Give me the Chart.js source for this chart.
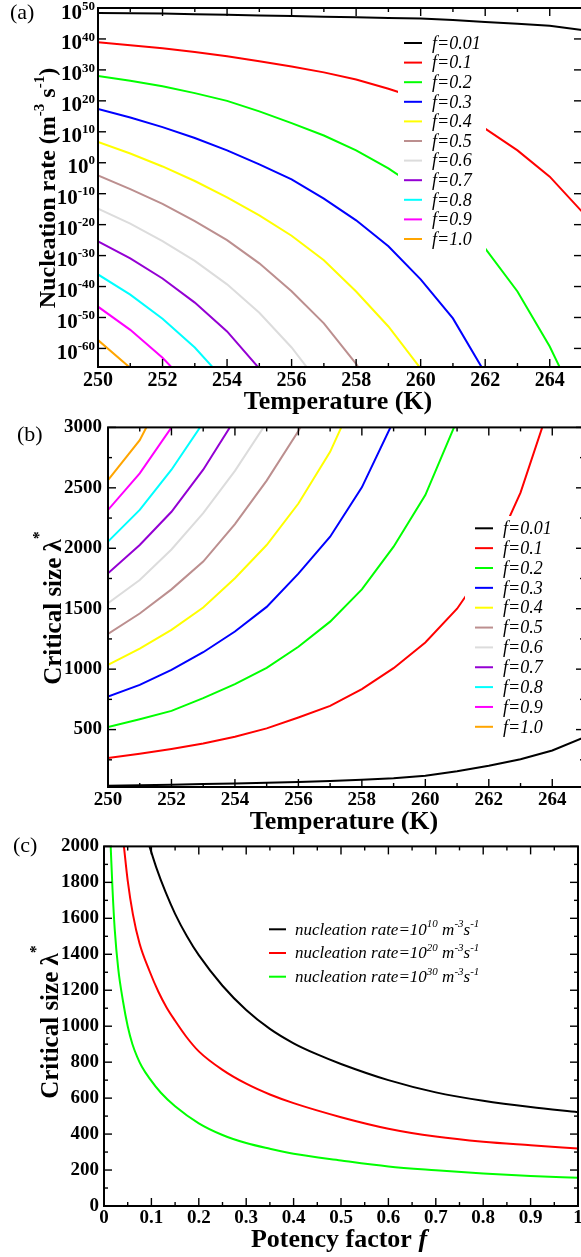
<!DOCTYPE html>
<html>
<head>
<meta charset="utf-8">
<script src="https://cdn.jsdelivr.net/npm/chart.js@4.4.0/dist/chart.umd.min.js"></script>
<style>
  html, body { margin: 0; padding: 0; overflow: hidden; background: #fff; }
  body { width: 581px; height: 1257px; position: relative; }
  .panel { position: absolute; left: 0; width: 590px; }
</style>
</head>
<body>
<div class="panel" style="top:0;height:415px"><canvas id="chartA"></canvas></div>
<div class="panel" style="top:410px;height:425px"><canvas id="chartB"></canvas></div>
<div class="panel" style="top:830px;height:423px"><canvas id="chartC"></canvas></div>
<script>
const SERIF = '"Liberation Serif", "DejaVu Serif", serif';

// temperatures (K) shared by panels (a) and (b)
const temps = [250, 251, 252, 253, 254, 255, 256, 257, 258, 259, 260, 261, 262, 263, 264, 265];
const fLabels = ['f=0.01', 'f=0.1', 'f=0.2', 'f=0.3', 'f=0.4', 'f=0.5', 'f=0.6', 'f=0.7', 'f=0.8', 'f=0.9', 'f=1.0'];
const fColors = ['#000000', '#ff0000', '#00ff00', '#0000ff', '#ffff00', '#bc8f8f', '#dcdcdc', '#9400d3', '#00ffff', '#ff00ff', '#ffa500'];

// (a) log10 of nucleation rate (m^-3 s^-1)
const rate001 = [48.4, 48.3, 48.2, 48.0, 47.8, 47.6, 47.4, 47.2, 47.0, 46.8, 46.6, 46.1, 45.5, 44.9, 44.3, 42.9];
const rate01 = [38.9, 38.0, 37.0, 35.8, 34.4, 32.8, 31.1, 29.2, 26.9, 23.9, 20.5, 16.3, 11.0, 4.0, -4.5, -15.8];
const rate02 = [28.0, 26.5, 24.7, 22.5, 20.0, 16.6, 12.8, 8.8, 4.0, -1.8, -8.8, -17.3, -27.7, -41.6, -59.4, -81];
const rate03 = [17.4, 14.6, 11.5, 8.0, 4.0, -0.5, -5.4, -11.6, -18.6, -27.0, -37.7, -50.3, -68];
const rate04 = [6.7, 3.0, -1.2, -5.9, -11.2, -17.0, -23.6, -31.5, -41.6, -52.9, -66.5];
const rate05 = [-4.1, -8.5, -13.3, -18.9, -25.0, -32.5, -41.5, -51.9, -65.0, -82];
const rate06 = [-14.8, -19.7, -25.3, -31.7, -39.3, -48.5, -59.7, -73.2];
const rate07 = [-25.4, -30.9, -37.4, -45.2, -54.5, -66.5];
const rate08 = [-36.1, -42.6, -50.4, -59.7, -71.2];
const rate09 = [-46.5, -54.0, -63.0, -74.0];
const rate10 = [-57.3, -66.3, -77];
const rateExpTicks = [50, 40, 30, 20, 10, 0, -10, -20, -30, -40, -50, -60];

// (b) critical size lambda*
const size001 = [36, 40, 44, 49, 54, 60, 67, 75, 85, 98, 118, 155, 200, 255, 327, 435];
const size01 = [264, 300, 340, 385, 440, 510, 600, 696, 835, 1008, 1220, 1500, 1880, 2460, 3250];
const size02 = [521, 585, 655, 760, 876, 1010, 1185, 1393, 1660, 2013, 2440, 3060];
const size03 = [774, 870, 994, 1140, 1311, 1515, 1790, 2096, 2504, 3055];
const size04 = [1036, 1170, 1325, 1510, 1752, 2027, 2370, 2798, 3375];
const size05 = [1292, 1460, 1660, 1890, 2200, 2560, 2970, 3500];
const size06 = [1545, 1738, 1990, 2290, 2640, 3040];
const size07 = [1793, 2027, 2302, 2650, 3067];
const size08 = [2055, 2317, 2650, 3039];
const size09 = [2317, 2620, 3000, 3400];
const size10 = [2564, 2895, 3400];
const sizeTicks = [500, 1000, 1500, 2000, 2500, 3000];

// (c) critical size vs potency factor f, for three nucleation rates
const fRate10 = [0.096, 0.11, 0.13, 0.15, 0.175, 0.2, 0.25, 0.3, 0.35, 0.4, 0.45, 0.5, 0.6, 0.7, 0.8, 0.9, 1.0];
const sizeRate10 = [2000, 1885, 1745, 1625, 1500, 1395, 1225, 1090, 985, 905, 843, 790, 700, 632, 585, 550, 522];
const fRate20 = [0.042, 0.05, 0.061, 0.075, 0.096, 0.115, 0.132, 0.15, 0.174, 0.2, 0.25, 0.3, 0.35, 0.4, 0.5, 0.6, 0.7, 0.8, 0.9, 1.0];
const sizeRate20 = [2000, 1810, 1622, 1460, 1307, 1190, 1104, 1030, 940, 860, 757, 680, 620, 572, 494, 430, 386, 357, 338, 320];
const fRate30 = [0.0141, 0.018, 0.0226, 0.03, 0.04, 0.05, 0.06, 0.07, 0.08, 0.096, 0.12, 0.15, 0.2, 0.25, 0.3, 0.35, 0.4, 0.5, 0.6, 0.7, 0.8, 0.9, 1.0];
const sizeRate30 = [2000, 1760, 1540, 1320, 1140, 1000, 900, 830, 775, 710, 630, 555, 460, 395, 350, 318, 290, 253, 220, 199, 181, 167, 157];

const rateSeries = [rate001, rate01, rate02, rate03, rate04, rate05, rate06, rate07, rate08, rate09, rate10];
const sizeSeries = [size001, size01, size02, size03, size04, size05, size06, size07, size08, size09, size10];

// draw text made of pieces, some raised as superscripts
function drawRich(ctx, parts, x, y, size, style, align) {
  const fontOf = p => `${p.style || style} ${p.sup ? Math.round(size * 0.62) : size}px ${SERIF}`;
  let w = 0;
  parts.forEach(p => { ctx.font = fontOf(p); w += ctx.measureText(p.t).width; });
  let cx = align === 'center' ? x - w / 2 : align === 'right' ? x - w : x;
  ctx.textAlign = 'left';
  ctx.textBaseline = 'alphabetic';
  parts.forEach(p => {
    ctx.font = fontOf(p);
    ctx.fillText(p.t, cx, p.sup ? y - size * (p.shift || 0.44) : y);
    cx += ctx.measureText(p.t).width;
  });
}

const specs = {
  chartA: {
    top: 0, panel: '(a)', panelPos: [10, 13], xMinor: 1, yMinor: 0, logLabels: true,
    xTitle: { parts: [{ t: 'Temperature (K)' }], y: 409 },
    yTitle: { parts: [{ t: 'Nucleation rate (m' }, { t: '-3', sup: true }, { t: ' s' }, { t: '-1', sup: true }, { t: ')' }], x: 55, y: 188, size: 24 },
    legend: { box: [398, 30, 88, 224], x1: 404, x2: 422, tx: 432, y: 43, dy: 19.6, size: 18 }
  },
  chartB: {
    top: 410, panel: '(b)', panelPos: [17, 435], xMinor: 1, yMinor: 250,
    xTitle: { parts: [{ t: 'Temperature (K)' }], y: 829 },
    yTitle: { parts: [{ t: 'Critical size λ' }, { t: '*', sup: true, shift: 0.7 }], x: 61, y: 608, size: 25 },
    legend: { box: [465, 516, 100, 224], x1: 475, x2: 493, tx: 503, y: 528.3, dy: 19.85, size: 18 }
  },
  chartC: {
    top: 830, panel: '(c)', panelPos: [13, 846], xMinor: 0.05, yMinor: 100,
    xTitle: { parts: [{ t: 'Potency factor ' }, { t: 'f', style: 'italic bold' }], y: 1247 },
    yTitle: { parts: [{ t: 'Critical size λ' }, { t: '*', sup: true, shift: 0.7 }], x: 58, y: 1022, size: 25 },
    legend: {
      x1: 269, x2: 286, tx: 295, y: 929.3, dy: 23.7, size: 17,
      rich: [
        [{ t: 'nucleation rate=10' }, { t: '10', sup: true }, { t: ' m' }, { t: '-3', sup: true }, { t: 's' }, { t: '-1', sup: true }],
        [{ t: 'nucleation rate=10' }, { t: '20', sup: true }, { t: ' m' }, { t: '-3', sup: true }, { t: 's' }, { t: '-1', sup: true }],
        [{ t: 'nucleation rate=10' }, { t: '30', sup: true }, { t: ' m' }, { t: '-3', sup: true }, { t: 's' }, { t: '-1', sup: true }]
      ]
    }
  }
};

const framePlugin = {
  id: 'frame',
  afterDatasetsDraw(chart) {
    const s = specs[chart.canvas.id], lg = s.legend, ctx = chart.ctx;
    ctx.save();
    ctx.translate(0, -s.top);
    if (lg.box) {
      ctx.fillStyle = '#fff';
      ctx.fillRect(lg.box[0], lg.box[1], lg.box[2], lg.box[3]);
    }
    chart.data.datasets.forEach((ds, i) => {
      const y = lg.y + i * lg.dy;
      ctx.strokeStyle = ds.borderColor;
      ctx.lineWidth = 2;
      ctx.beginPath(); ctx.moveTo(lg.x1, y); ctx.lineTo(lg.x2, y); ctx.stroke();
      ctx.fillStyle = '#000';
      const parts = lg.rich ? lg.rich[i] : [{ t: ds.label }];
      drawRich(ctx, parts, lg.tx, y + lg.size * 0.32, lg.size, 'italic', 'left');
    });
    ctx.restore();
  },
  afterDraw(chart) {
    const s = specs[chart.canvas.id], ctx = chart.ctx, a = chart.chartArea;
    const xs = chart.scales.x, ys = chart.scales.y;
    const seg = (x1, y1, x2, y2) => { ctx.beginPath(); ctx.moveTo(x1, y1); ctx.lineTo(x2, y2); ctx.stroke(); };
    const isMajor = (scale, v) => scale.ticks.some(t => Math.abs(t.value - v) < 1e-6);
    ctx.save();
    ctx.strokeStyle = '#000';
    ctx.lineWidth = 1.4;
    // inward ticks on all four sides
    xs.ticks.forEach(t => {
      const p = xs.getPixelForValue(t.value);
      seg(p, a.bottom, p, a.bottom - 8); seg(p, a.top, p, a.top + 8);
    });
    for (let k = 0; xs.min + k * s.xMinor <= xs.max + 1e-9; k++) {
      const v = xs.min + k * s.xMinor;
      if (isMajor(xs, v)) continue;
      const p = xs.getPixelForValue(v);
      seg(p, a.bottom, p, a.bottom - 4); seg(p, a.top, p, a.top + 4);
    }
    ys.ticks.forEach(t => {
      const p = ys.getPixelForValue(t.value);
      seg(a.left, p, a.left + 8, p); seg(a.right, p, a.right - 8, p);
    });
    if (s.yMinor) {
      const start = Math.ceil(ys.min / s.yMinor) * s.yMinor;
      for (let v = start; v <= ys.max + 1e-9; v += s.yMinor) {
        if (isMajor(ys, v)) continue;
        const p = ys.getPixelForValue(v);
        seg(a.left, p, a.left + 4, p); seg(a.right, p, a.right - 4, p);
      }
    }
    // frame
    ctx.lineWidth = 2;
    ctx.strokeRect(a.left, a.top, a.right - a.left, a.bottom - a.top);

    ctx.fillStyle = '#000';
    // power-of-ten tick labels for panel (a)
    if (s.logLabels) {
      rateExpTicks.forEach(e => {
        const p = ys.getPixelForValue(e);
        drawRich(ctx, [{ t: '10' }, { t: String(e), sup: true, shift: 0.42 }], a.left - 3, p + 10.5, 21, 'bold', 'right');
      });
    }
    ctx.translate(0, -s.top);
    // axis titles
    drawRich(ctx, s.xTitle.parts, (a.left + a.right) / 2 - 2, s.xTitle.y, 26, 'bold', 'center');
    ctx.save();
    ctx.translate(s.yTitle.x, s.yTitle.y);
    ctx.rotate(-Math.PI / 2);
    drawRich(ctx, s.yTitle.parts, 0, 0, s.yTitle.size, 'bold', 'center');
    ctx.restore();
    // panel letter
    ctx.font = `22px ${SERIF}`;
    ctx.textAlign = 'left';
    ctx.textBaseline = 'middle';
    ctx.fillText(s.panel, s.panelPos[0], s.panelPos[1]);
    ctx.restore();
  }
};

function tempDatasets(series) {
  return series.map((vals, i) => ({
    label: fLabels[i],
    data: vals.map((v, j) => ({ x: temps[j], y: v })),
    borderColor: fColors[i]
  }));
}

function fixedTicks(values) {
  return sc => { sc.ticks = values.map(v => ({ value: v })); };
}

function makeChart(id, datasets, xOpts, yOpts, padding, yWidth) {
  return new Chart(document.getElementById(id), {
    type: 'line',
    data: { datasets },
    options: {
      responsive: true,
      maintainAspectRatio: false,
      animation: false,
      layout: { padding },
      elements: { point: { radius: 0 }, line: { borderWidth: 2, tension: 0, fill: false } },
      plugins: { legend: { display: false }, tooltip: { enabled: false } },
      scales: {
        x: Object.assign({
          type: 'linear',
          grid: { display: false, drawTicks: false },
          border: { display: false },
          afterFit: sc => { sc.height = 40; }
        }, xOpts),
        y: Object.assign({
          type: 'linear',
          grid: { display: false, drawTicks: false },
          border: { display: false },
          afterFit: sc => { sc.width = yWidth; }
        }, yOpts)
      }
    },
    plugins: [framePlugin]
  });
}

const labelFont = size => ({ family: SERIF, size, weight: 'bold' });

makeChart('chartA', tempDatasets(rateSeries),
  { min: 250, max: 265, ticks: { stepSize: 2, includeBounds: false, font: labelFont(20), color: '#000', padding: 2, maxRotation: 0, callback: v => String(v) } },
  { min: -66, max: 50, afterBuildTicks: fixedTicks(rateExpTicks), ticks: { display: false } },
  { top: 8, bottom: 8, left: 0, right: 8 }, 98);

makeChart('chartB', tempDatasets(sizeSeries),
  { min: 250, max: 265, ticks: { stepSize: 2, includeBounds: false, font: labelFont(19), color: '#000', padding: 2, maxRotation: 0, callback: v => String(v) } },
  { min: 25, max: 3000, afterBuildTicks: fixedTicks(sizeTicks), ticks: { font: labelFont(19), color: '#000', padding: 6, callback: v => String(v) } },
  { top: 17, bottom: 8, left: 0, right: 6 }, 108);

const rateLabels = ['nucleation rate=10^10 m^-3 s^-1', 'nucleation rate=10^20 m^-3 s^-1', 'nucleation rate=10^30 m^-3 s^-1'];
makeChart('chartC', [
    { label: rateLabels[0], data: fRate10.map((f, i) => ({ x: f, y: sizeRate10[i] })), borderColor: '#000000', cubicInterpolationMode: 'monotone' },
    { label: rateLabels[1], data: fRate20.map((f, i) => ({ x: f, y: sizeRate20[i] })), borderColor: '#ff0000', cubicInterpolationMode: 'monotone' },
    { label: rateLabels[2], data: fRate30.map((f, i) => ({ x: f, y: sizeRate30[i] })), borderColor: '#00ff00', cubicInterpolationMode: 'monotone' }
  ],
  { min: 0, max: 1, ticks: { stepSize: 0.1, font: labelFont(19), color: '#000', padding: 1, maxRotation: 0, autoSkip: false, callback: v => String(Math.round(v * 10) / 10) } },
  { min: 0, max: 2000, ticks: { stepSize: 200, font: labelFont(19), color: '#000', padding: 5, callback: v => String(v) } },
  { top: 15, bottom: 7, left: 0, right: 12 }, 104);
</script>
</body>
</html>
